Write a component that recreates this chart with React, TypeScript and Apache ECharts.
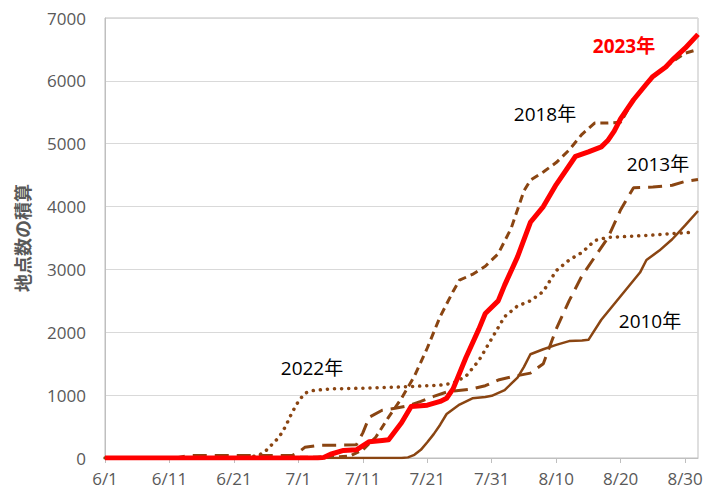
import React, { useEffect, useRef } from "react";
import * as echarts from "echarts";

// x = days since 6/1, y = cumulative count of points
const tickDays = [0, 10, 20, 30, 40, 50, 60, 70, 80, 90];

const s2023: [number, number][] = [
  [0, 0], [33, 0], [34, 10], [35, 60], [37, 120], [39, 130], [41, 260], [43, 280], [44, 290],
  [46, 560], [47.5, 820], [50, 840], [52, 900], [53, 950], [54, 1100], [56, 1600], [58, 2050],
  [59, 2300], [61, 2500], [62, 2750], [64, 3200], [66, 3750], [68, 4000], [70, 4350], [72, 4650],
  [73, 4800], [75, 4870], [77, 4950], [78, 5050], [79, 5200], [80, 5400], [82, 5700], [84, 5950],
  [85, 6070], [87, 6220], [88, 6330], [90, 6520], [92, 6740],
];

const s2018: [number, number][] = [
  [0, 0], [14, 0], [30, 10], [36, 20], [38, 30], [40, 130], [42, 330], [44, 650], [46, 950],
  [48, 1300], [50, 1750], [52, 2250], [54, 2650], [55, 2830], [57, 2920], [59, 3050], [61, 3250],
  [63, 3650], [65, 4250], [66, 4420], [68, 4550], [70, 4700], [72, 4900], [74, 5150], [76, 5330],
  [78, 5330], [80, 5340], [82, 5700], [84, 5950], [86, 6150], [88, 6300], [90, 6440], [92, 6500],
];

const s2013: [number, number][] = [
  [0, 0], [11, 0], [13, 40], [29, 40], [30, 90], [31, 170], [33, 200], [39, 210], [40, 400],
  [41, 650], [43, 760], [45, 790], [47, 830], [49, 900], [51, 980], [53, 1050], [57, 1100],
  [59, 1150], [61, 1240], [63, 1290], [65, 1330], [66, 1350], [68, 1500], [70, 2050], [72, 2500],
  [74, 2900], [76, 3200], [78, 3500], [80, 3950], [82, 4300], [85, 4310], [88, 4340], [90, 4400],
  [92, 4430],
];

const s2022: [number, number][] = [
  [0, 0], [22, 0], [24, 50], [25, 120], [27, 330], [28, 500], [29, 720], [30, 900], [31, 1030],
  [32, 1070], [35, 1100], [40, 1110], [46, 1130], [52, 1160], [54, 1190], [56, 1300], [58, 1550],
  [60, 1900], [62, 2250], [64, 2420], [66, 2500], [68, 2650], [70, 2980], [72, 3150], [74, 3270],
  [76, 3460], [78, 3510], [80, 3520], [84, 3540], [88, 3570], [91, 3590],
];

const s2010: [number, number][] = [
  [0, 0], [46, 0], [47, 10], [48, 50], [49, 130], [50, 250], [51, 380], [52, 530], [53, 700],
  [55, 850], [57, 950], [59, 970], [60, 990], [62, 1080], [64, 1280], [65, 1450], [66, 1650],
  [68, 1730], [70, 1800], [72, 1860], [74, 1870], [75, 1880], [77, 2200], [79, 2450], [81, 2700],
  [83, 2950], [84, 3150], [86, 3300], [88, 3480], [90, 3700], [92, 3930],
];

const BROWN = "#8a4512";
const FONT = "'Open Sans', 'Noto Sans CJK JP', sans-serif";

function dayLabel(d: number): string {
  const dt = new Date(2023, 5, 1 + d);
  return `${dt.getMonth() + 1}/${dt.getDate()}`;
}

export default function App() {
  const ref = useRef<HTMLDivElement>(null);
  useEffect(() => {
    document.body.style.margin = "0";
    if (!ref.current) return;
    const chart = echarts.init(ref.current, undefined, { renderer: "svg" });
    const base = {
      type: "line",
      showSymbol: false,
      smooth: false,
      silent: true,
    };
    const note = (text: string, x: number, y: number, fill = "#000000", weight = "normal") => ({
      type: "text",
      x,
      y,
      z: 20,
      style: {
        text,
        fill,
        font: `${weight} 19px ${FONT}`,
        align: "center",
        verticalAlign: "middle",
      },
    });
    chart.setOption({
      animation: false,
      backgroundColor: "#ffffff",
      grid: {
        left: 105,
        right: 13,
        top: 18,
        bottom: 41,
        show: true,
        borderColor: "#bfbfbf",
        borderWidth: 1,
      },
      xAxis: {
        type: "value",
        min: 0,
        max: 92,
        axisLine: { show: true, lineStyle: { color: "#bfbfbf", width: 1 } },
        axisTick: {
          show: true,
          customValues: tickDays,
          length: 5,
          lineStyle: { color: "#bfbfbf" },
        },
        axisLabel: {
          customValues: tickDays,
          formatter: (v: number) => dayLabel(v),
          color: "#595959",
          fontSize: 17,
          fontFamily: FONT,
          margin: 12,
        },
        splitLine: { show: false },
      },
      yAxis: {
        type: "value",
        min: 0,
        max: 7000,
        interval: 1000,
        name: "地点数の積算",
        nameLocation: "middle",
        nameRotate: 90,
        nameGap: 74,
        nameTextStyle: {
          color: "#595959",
          fontSize: 18,
          fontWeight: "bold",
          fontFamily: "'Noto Sans CJK JP', sans-serif",
        },
        axisLine: { show: true, lineStyle: { color: "#bfbfbf" } },
        axisTick: { show: false },
        axisLabel: {
          color: "#595959",
          fontSize: 17,
          fontFamily: FONT,
          margin: 19,
          formatter: (v: number) => String(v),
        },
        splitLine: { show: true, lineStyle: { color: "#d9d9d9", width: 1 } },
      },
      series: [
        {
          ...base,
          name: "2010年",
          data: s2010,
          lineStyle: { color: BROWN, width: 2.5, join: "round" },
          z: 2,
        },
        {
          ...base,
          name: "2022年",
          data: s2022,
          lineStyle: { color: BROWN, width: 3.5, type: [0.1, 7], cap: "round" },
          z: 3,
        },
        {
          ...base,
          name: "2013年",
          data: s2013,
          lineStyle: { color: BROWN, width: 3, type: [14, 8] },
          z: 4,
        },
        {
          ...base,
          name: "2018年",
          data: s2018,
          lineStyle: { color: BROWN, width: 3, type: [8, 5] },
          z: 5,
        },
        {
          ...base,
          name: "2023年",
          data: s2023,
          lineStyle: { color: "#ff0000", width: 5, join: "round" },
          z: 10,
        },
      ],
      graphic: [
        note("2023年", 624, 46, "#ff0000", "bold"),
        note("2018年", 545, 114),
        note("2013年", 658, 164),
        note("2010年", 650, 321),
        note("2022年", 312, 368),
      ],
    });
    return () => chart.dispose();
  }, []);
  return <div ref={ref} style={{ width: 711, height: 499 }} />;
}
